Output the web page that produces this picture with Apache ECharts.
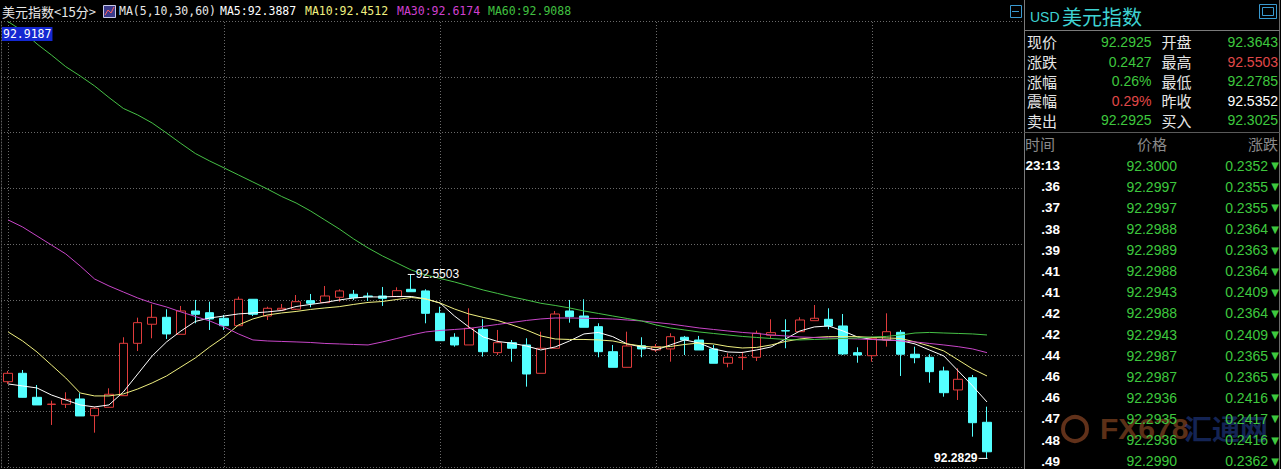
<!DOCTYPE html>
<html><head><meta charset="utf-8">
<script src="https://cdn.jsdelivr.net/npm/echarts@6/dist/echarts.min.js"></script>
<style>html,body{margin:0;padding:0;background:#000;overflow:hidden}#c{width:1281px;height:469px}</style>
</head><body><div id="c"></div>
<script>
// ---- data (15-minute bars) ----
const categories = "06:00 06:15 06:30 06:45 07:00 07:15 07:30 07:45 08:00 08:15 08:30 08:45 09:00 09:15 09:30 09:45 10:00 10:15 10:30 10:45 11:00 11:15 11:30 11:45 12:00 12:15 12:30 12:45 13:00 13:15 13:30 13:45 14:00 14:15 14:30 14:45 15:00 15:15 15:30 15:45 16:00 16:15 16:30 16:45 17:00 17:15 17:30 17:45 18:00 18:15 18:30 18:45 19:00 19:15 19:30 19:45 20:00 20:15 20:30 20:45 21:00 21:15 21:30 21:45 22:00 22:15 22:30 22:45 23:00 23:15 23:30".split(" ");
const opens = [92.3944,92.4066,92.3717,92.3614,92.3616,92.3693,92.3450,92.3572,92.3741,92.4502,92.4779,92.4880,92.4633,92.4972,92.4947,92.4866,92.4758,92.5142,92.4899,92.4986,92.4997,92.5122,92.5093,92.5171,92.5215,92.5190,92.5190,92.5180,92.5287,92.5263,92.4938,92.4590,92.4478,92.4706,92.4366,92.4511,92.4478,92.4066,92.4430,92.4972,92.4899,92.4744,92.4380,92.4153,92.4467,92.4405,92.4420,92.4590,92.4550,92.4420,92.4212,92.4294,92.4299,92.4619,92.4686,92.4671,92.4831,92.4851,92.4754,92.4366,92.4322,92.4550,92.4662,92.4343,92.4299,92.4100,92.3824,92.4002,92.3354];
const closes = [92.4066,92.3717,92.3606,92.3618,92.3688,92.3446,92.3558,92.3761,92.4502,92.4802,92.4880,92.4638,92.4972,92.4924,92.4856,92.4758,92.5142,92.4924,92.5011,92.5011,92.5107,92.5084,92.5190,92.5263,92.5165,92.5180,92.5156,92.5267,92.5252,92.4938,92.4540,92.4478,92.4720,92.4380,92.4511,92.4430,92.4056,92.4430,92.4928,92.4889,92.4735,92.4380,92.4153,92.4463,92.4420,92.4453,92.4598,92.4550,92.4405,92.4212,92.4299,92.4299,92.4648,92.4657,92.4681,92.4841,92.4866,92.4754,92.4347,92.4332,92.4575,92.4671,92.4343,92.4293,92.4090,92.3784,92.3979,92.3348,92.2925];
const lows = [92.3911,92.3715,92.3606,92.3315,92.3562,92.3446,92.3203,92.3572,92.3741,92.4390,92.4575,92.4565,92.4633,92.4793,92.4696,92.4696,92.4758,92.4899,92.4841,92.4972,92.4986,92.5026,92.5089,92.5107,92.5132,92.5117,92.5045,92.5176,92.5248,92.4793,92.4540,92.4453,92.4478,92.4308,92.4332,92.4235,92.3872,92.4066,92.4430,92.4802,92.4735,92.4299,92.4153,92.4153,92.4299,92.4376,92.4235,92.4332,92.4405,92.4212,92.4153,92.4114,92.4245,92.4575,92.4430,92.4671,92.4831,92.4706,92.4332,92.4220,92.4235,92.4453,92.4027,92.4212,92.3930,92.3726,92.3678,92.3145,92.2829];
const highs = [92.4100,92.4114,92.3896,92.3668,92.3790,92.3776,92.3581,92.3848,92.4590,92.4875,92.5069,92.4997,92.5045,92.5132,92.5107,92.4914,92.5180,92.5142,92.5034,92.5074,92.5204,92.5219,92.5335,92.5287,92.5277,92.5238,92.5321,92.5316,92.5503,92.5287,92.5034,92.4648,92.5011,92.4851,92.4696,92.4550,92.4575,92.4671,92.4972,92.5132,92.5142,92.4793,92.4478,92.4671,92.4590,92.4492,92.4648,92.4609,92.4609,92.4478,92.4357,92.4380,92.4686,92.4851,92.4851,92.4880,92.5059,92.5011,92.4928,92.4444,92.4598,92.4938,92.4696,92.4453,92.4343,92.4162,92.4139,92.4042,92.3581];
const ma5 = [92.3911,92.3882,92.3853,92.3751,92.3678,92.3606,92.3577,92.3606,92.3795,92.4056,92.4318,92.4522,92.4681,92.4820,92.4870,92.4899,92.4929,92.4943,92.4958,92.4979,92.5037,92.5067,92.5096,92.5132,92.5161,92.5176,92.5176,92.5183,92.5183,92.5147,92.5088,92.4899,92.4740,92.4594,92.4529,92.4503,92.4463,92.4405,92.4449,92.4536,92.4638,92.4660,92.4599,92.4493,92.4449,92.4405,92.4478,92.4551,92.4507,92.4420,92.4376,92.4369,92.4405,92.4449,92.4565,92.4681,92.4740,92.4754,92.4681,92.4594,92.4558,92.4551,92.4541,92.4493,92.4405,92.4318,92.4100,92.3882,92.3649];
const ma10 = [92.4667,92.4536,92.4376,92.4187,92.3998,92.3780,92.3737,92.3737,92.3766,92.3838,92.3926,92.4027,92.4158,92.4289,92.4449,92.4594,92.4769,92.4856,92.4914,92.4943,92.4965,92.4994,92.5016,92.5035,92.5067,92.5096,92.5110,92.5139,92.5168,92.5147,92.5088,92.5001,92.4929,92.4878,92.4834,92.4769,92.4696,92.4609,92.4565,92.4558,92.4558,92.4551,92.4536,92.4493,92.4463,92.4442,92.4456,92.4485,92.4507,92.4493,92.4456,92.4434,92.4442,92.4478,92.4529,92.4565,92.4587,92.4599,92.4599,92.4599,92.4587,92.4580,92.4572,92.4522,92.4463,92.4391,92.4260,92.4129,92.4027];
const ma30 = [92.6295,92.6193,92.6062,92.5931,92.5801,92.5626,92.5437,92.5336,92.5248,92.5161,92.5088,92.5030,92.4958,92.4892,92.4827,92.4740,92.4638,92.4551,92.4536,92.4529,92.4522,92.4514,92.4500,92.4493,92.4485,92.4478,92.4522,92.4572,92.4623,92.4667,92.4689,92.4703,92.4718,92.4747,92.4776,92.4805,92.4834,92.4856,92.4870,92.4870,92.4866,92.4863,92.4856,92.4841,92.4827,92.4805,92.4783,92.4754,92.4725,92.4703,92.4681,92.4660,92.4645,92.4623,92.4609,92.4594,92.4587,92.4580,92.4572,92.4565,92.4558,92.4551,92.4536,92.4522,92.4500,92.4478,92.4453,92.4420,92.4366];
const ma60 = [92.9177,92.9042,92.8853,92.8693,92.8523,92.8388,92.8243,92.8075,92.7916,92.7821,92.7705,92.7559,92.7407,92.7261,92.7152,92.7051,92.6949,92.6847,92.6745,92.6636,92.6542,92.6426,92.6295,92.6164,92.6019,92.5888,92.5772,92.5670,92.5568,92.5495,92.5445,92.5394,92.5336,92.5277,92.5227,92.5176,92.5132,92.5084,92.5052,92.5016,92.4972,92.4936,92.4899,92.4863,92.4827,92.4769,92.4725,92.4696,92.4667,92.4645,92.4623,92.4602,92.4587,92.4572,92.4558,92.4551,92.4558,92.4565,92.4572,92.4580,92.4594,92.4602,92.4623,92.4652,92.4660,92.4652,92.4645,92.4638,92.4623];
const yMax = 92.9187, yMin = 92.2704;
const gridColumns = [0, 15, 30, 45, 60];
const headerTexts = ['美元指数<15分>', 'MA(5,10,30,60)', 'MA5:92.3887', 'MA10:92.4512', 'MA30:92.6174', 'MA60:92.9088'];
const infoLeftLabels = ['现价','涨跌','涨幅','震幅','卖出'];
const infoLeftValues = ['92.2925','0.2427','0.26%','0.29%','92.2925'];
const infoRightLabels = ['开盘','最高','最低','昨收','买入'];
const infoRightValues = ['92.3643','92.5503','92.2785','92.5352','92.3025'];
const tickTimes = ['23:13','.36','.37','.38','.39','.41','.41','.42','.42','.44','.46','.46','.47','.48','.49'];
const tickPrices = ['92.3000','92.2997','92.2997','92.2988','92.2989','92.2988','92.2943','92.2988','92.2943','92.2987','92.2987','92.2936','92.2935','92.2936','92.2990'];
const tickChanges = ['0.2352','0.2355','0.2355','0.2364','0.2363','0.2364','0.2409','0.2364','0.2409','0.2365','0.2365','0.2416','0.2417','0.2416','0.2362'];

// ---- styles ----
const UP = '#e03c3c', DOWN = '#54ffff', GREEN = '#3ec83e', RED = '#e04848', CYAN = '#3ed2d2';
const CJK = '"Noto Sans CJK SC"', NUM = '"Liberation Sans", Arial', MONO = '"DejaVu Sans Mono"';

const G = [];
function txt(x, y, text, fill, font, align, extra) {
  G.push({type:'text', x:x, y:y, silent:true, z:10,
    style:Object.assign({text:text, fill:fill, font:font, align:align||'left', verticalAlign:'middle'}, extra||{})});
}
function ln(x1,y1,x2,y2,stroke){ G.push({type:'line', silent:true, z:10, shape:{x1:x1,y1:y1,x2:x2,y2:y2}, style:{stroke:stroke, lineWidth:1}}); }
function rc(x,y,w,h,stroke,fill){ G.push({type:'rect', silent:true, z:10, shape:{x:x,y:y,width:w,height:h}, style:{stroke:stroke, fill:fill||'none', lineWidth:1}}); }

// header
txt(2, 11, headerTexts[0], '#e8e8e8', `13px ${CJK}`);
rc(103.5, 5.5, 12, 12, '#c8c8e8', '#3a3a8a');
G.push({type:'polyline', silent:true, z:11, shape:{points:[[105,15],[108,10],[111,13],[114,7]]}, style:{stroke:'#ff6060', fill:'none', lineWidth:1}});
const hx = [119, 220, 305, 397, 488];
const hc = ['#e8e8e8', '#ffffff', '#f0f080', '#d040d0', '#40c040'];
for (let i = 1; i < headerTexts.length; i++) txt(hx[i-1], 11, headerTexts[i], hc[i-1], `11.5px ${MONO}`);
// axis max tag
G.push({type:'text', x:2, y:27, silent:true, z:10, style:{text:yMax.toFixed(4), fill:'#ffffff', font:`11.5px ${MONO}`, backgroundColor:'#1428d2', padding:[1,1,1,1], verticalAlign:'top', align:'left'}});

// right panel frame
ln(1024.5, 0, 1024.5, 469, '#7a7a7a');
ln(1279.5, 0, 1279.5, 469, '#6a6a6a');
ln(1024, 30.5, 1280, 30.5, '#7a7a7a');
ln(1024, 132.5, 1280, 132.5, '#5a5a5a');
rc(1010.5, 5.5, 11, 12, '#3a9ad0');
ln(1012, 11.5, 1019, 11.5, '#3a9ad0');
rc(1259.5, 4.5, 17, 14, '#3a9ad0');
rc(1262.5, 7.5, 11, 8, '#3a9ad0');
txt(1030, 17, 'USD', CYAN, `14px ${NUM}`);
txt(1062, 16.5, '美元指数', CYAN, `20px ${CJK}`);
const rowY = [41.5, 61.5, 81, 100.5, 120];
const leftCols = [GREEN, GREEN, GREEN, RED, GREEN];
const rightCols = [GREEN, RED, GREEN, '#ffffff', GREEN];
for (let i = 0; i < 5; i++) {
  txt(1027, rowY[i], infoLeftLabels[i], '#e6e6e6', `15px ${CJK}`);
  txt(1151.5, rowY[i], infoLeftValues[i], leftCols[i], `14px ${NUM}`, 'right');
  txt(1161.5, rowY[i], infoRightLabels[i], '#e6e6e6', `15px ${CJK}`);
  txt(1278, rowY[i], infoRightValues[i], rightCols[i], `14px ${NUM}`, 'right');
}
txt(1025, 143, '时间', '#8a8a8a', `15px ${CJK}`);
txt(1152, 143, '价格', '#8a8a8a', `15px ${CJK}`, 'center');
txt(1278, 143, '涨跌', '#8a8a8a', `15px ${CJK}`, 'right');
// watermark
G.push({type:'circle', silent:true, z:9, shape:{cx:1075, cy:429, r:12}, style:{stroke:'#b05a30', lineWidth:4, fill:'none', opacity:0.55}});
txt(1100, 428, 'FX678', '#b8602e', `bold 30px ${NUM}`, 'left', {opacity:0.5});
txt(1184, 428, '汇通网', '#2848a8', `bold 28px ${CJK}`, 'left', {opacity:0.5});
for (let k = 0; k < tickTimes.length; k++) {
  const y = 165.7 + 21.1 * k;
  txt(1060, y, tickTimes[k], '#ffffff', `bold 13.5px ${NUM}`, 'right');
  txt(1177, y, tickPrices[k], GREEN, `14px ${NUM}`, 'right');
  txt(1268, y, tickChanges[k], GREEN, `14px ${NUM}`, 'right');
  txt(1275, y, '▼', GREEN, `10px "DejaVu Sans"`, 'center');
}

// extremes for labels
const iHigh = highs.indexOf(Math.max(...highs));
const iLow = lows.indexOf(Math.min(...lows));

const candleData = opens.map((o, i) => [o, closes[i], lows[i], highs[i]]);

const chart = echarts.init(document.getElementById('c'), null, {renderer:'svg'});
chart.setOption({
  backgroundColor:'#000',
  animation:false,
  grid:{left:1, right:258, top:21, bottom:2, containLabel:false},
  xAxis:{type:'category', data:categories, boundaryGap:true,
    axisLine:{show:false}, axisTick:{show:false}, axisLabel:{show:false}, splitLine:{show:false}},
  yAxis:[
    {type:'value', min:yMin, max:yMax, scale:true,
      axisLine:{show:true, lineStyle:{color:'#606060', type:[1,2]}}, axisTick:{show:false}, axisLabel:{show:false}, splitLine:{show:false}},
    {type:'value', min:0, max:8, interval:1, position:'left',
      axisLine:{show:false}, axisTick:{show:false}, axisLabel:{show:false},
      splitLine:{show:true, lineStyle:{color:'#6a6a6a', type:[1,2], width:1}}}
  ],
  series:[
    {type:'candlestick', name:'美元指数', data:candleData, barWidth:9, z:2,
      itemStyle:{color:'#000000', color0:DOWN, borderColor:UP, borderColor0:DOWN, borderColorDoji:UP, borderWidth:1},
      markLine:{silent:true, z:1, symbol:['none','none'], label:{show:false},
        lineStyle:{color:'#6a6a6a', type:[1,2], width:1},
        data:gridColumns.map(c => ({xAxis:c}))},
      markPoint:{silent:true, z:6, data:[
        {coord:[iHigh, highs[iHigh]], value:highs[iHigh], symbol:'rect', symbolSize:[7,1],
          itemStyle:{color:'#ffffff'},
          label:{show:true, position:'right', distance:1, color:'#ffffff', fontSize:12, fontFamily:'Liberation Sans', formatter:p => p.value.toFixed(4)}},
        {coord:[iLow, lows[iLow]], value:lows[iLow], symbol:'rect', symbolSize:[9,1], symbolOffset:[-4,0],
          itemStyle:{color:'#ffffff'},
          label:{show:true, position:'left', distance:1, color:'#ffffff', fontSize:12, fontWeight:'bold', fontFamily:'Liberation Sans', formatter:p => p.value.toFixed(4)}}
      ]}
    },
    {type:'line', name:'MA5', data:ma5, symbol:'none', z:3, lineStyle:{color:'#ffffff', width:1}},
    {type:'line', name:'MA10', data:ma10, symbol:'none', z:3, lineStyle:{color:'#f0f080', width:1}},
    {type:'line', name:'MA30', data:ma30, symbol:'none', z:3, lineStyle:{color:'#c846c8', width:1}},
    {type:'line', name:'MA60', data:ma60, symbol:'none', z:3, lineStyle:{color:'#46c046', width:1}}
  ],
  graphic:G
});
</script>
</body></html>
